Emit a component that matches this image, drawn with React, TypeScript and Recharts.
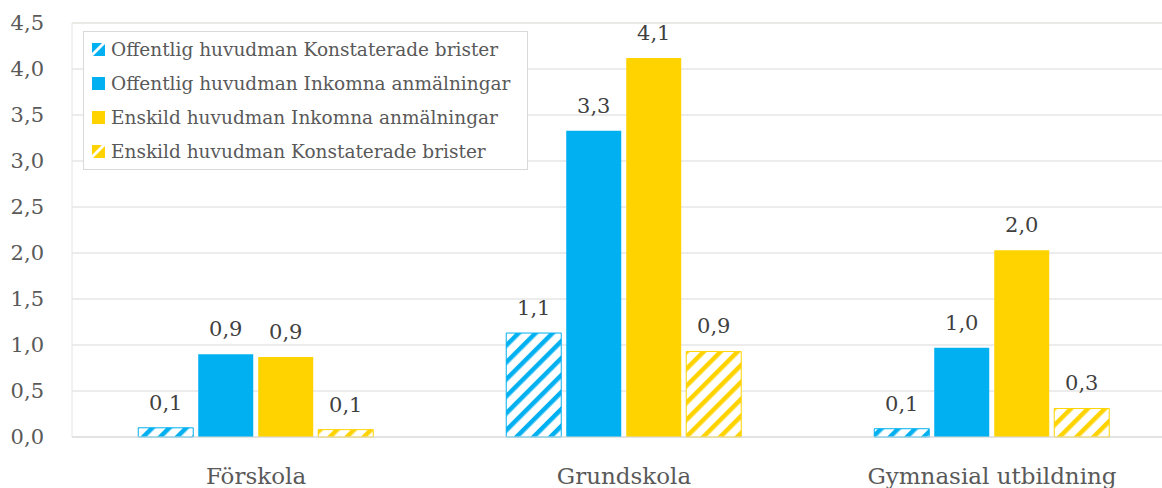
import {
  Bar,
  BarChart,
  CartesianGrid,
  LabelList,
  ReferenceLine,
  XAxis,
  YAxis,
} from "recharts";

const categories = ["Förskola", "Grundskola", "Gymnasial utbildning"];
const offentligBrister = [0.1, 1.13, 0.09];
const offentligInkomna = [0.9, 3.33, 0.97];
const enskildInkomna = [0.87, 4.12, 2.03];
const enskildBrister = [0.08, 0.93, 0.31];
const yTicks = [0, 0.5, 1, 1.5, 2, 2.5, 3, 3.5, 4, 4.5];

const BLUE = "#00b0f0";
const YELLOW = "#ffd300";
const TEXT = "#595959";
const FONT = "'DejaVu Serif', serif";

const series = [
  { key: "ob", name: "Offentlig huvudman Konstaterade brister", color: BLUE, hatched: true },
  { key: "oi", name: "Offentlig huvudman Inkomna anmälningar", color: BLUE, hatched: false },
  { key: "ei", name: "Enskild huvudman Inkomna anmälningar", color: YELLOW, hatched: false },
  { key: "eb", name: "Enskild huvudman Konstaterade brister", color: YELLOW, hatched: true },
];

const data = categories.map((c, i) => ({
  name: c,
  ob: offentligBrister[i],
  oi: offentligInkomna[i],
  ei: enskildInkomna[i],
  eb: enskildBrister[i],
}));

const fmt = (v: unknown) => Number(v).toFixed(1).replace(".", ",");

// legend box sits over the plot, so it's drawn outside recharts' layout
function LegendBox() {
  return (
    <div
      style={{
        position: "absolute",
        left: 83,
        top: 31,
        width: 445,
        border: "1px solid #d9d9d9",
        background: "#fff",
        padding: "0 0 0 8px",
        boxSizing: "border-box",
        fontFamily: FONT,
        fontSize: 18.5,
        color: TEXT,
        whiteSpace: "nowrap",
      }}
    >
      {series.map((s) => (
        <div key={s.key} style={{ display: "flex", alignItems: "center", height: 34.2 }}>
          <svg width={13} height={13} style={{ marginRight: 6, flex: "none" }}>
            <rect x={0} y={0} width={13} height={13} fill={s.color} />
            {s.hatched && <path d="M0,10 L10,0 L13,0 L13,1 L1,13 L0,13 Z" fill="#fff" />}
          </svg>
          <span>{s.name}</span>
        </div>
      ))}
    </div>
  );
}

export default function App() {
  return (
    <div
      style={{
        position: "fixed",
        left: 0,
        top: 0,
        width: 1162,
        height: 488,
        overflow: "hidden",
        background: "#fff",
      }}
    >
      <BarChart
        width={1176}
        height={488}
        data={data}
        margin={{ top: 23, right: 0, left: 0, bottom: 0 }}
        barCategoryGap="18%"
        barGap={5}
      >
        <defs>
          {series
            .filter((s) => s.hatched)
            .map((s) => (
              <pattern
                key={s.key}
                id={`hatch-${s.key}`}
                width={12}
                height={12}
                patternUnits="userSpaceOnUse"
                patternTransform="rotate(45)"
              >
                <rect width={12} height={12} fill="#fff" />
                <rect width={4.5} height={12} fill={s.color} />
              </pattern>
            ))}
        </defs>
        <CartesianGrid vertical={false} stroke="#d9d9d9" />
        <XAxis
          dataKey="name"
          height={51}
          tickLine={false}
          axisLine={{ stroke: "#d9d9d9" }}
          tickSize={0}
          tickMargin={31}
          tick={{ fill: TEXT, fontSize: 23, fontFamily: FONT }}
        />
        <YAxis
          width={72}
          domain={[0, 4.5]}
          ticks={yTicks}
          tickLine={false}
          tickSize={0}
          tickMargin={28}
          axisLine={{ stroke: "#e8e4dc" }}
          tickFormatter={(v) => fmt(v)}
          tick={{ fill: TEXT, fontSize: 21, fontFamily: FONT }}
        />
        <ReferenceLine y={4.5} stroke="#ebe7df" />
        {series.map((s) => (
          <Bar
            key={s.key}
            dataKey={s.key}
            name={s.name}
            fill={s.hatched ? `url(#hatch-${s.key})` : s.color}
            stroke={s.hatched ? s.color : "none"}
            strokeWidth={1}
            isAnimationActive={false}
          >
            <LabelList
              dataKey={s.key}
              position="top"
              offset={18}
              formatter={fmt}
              style={{ fill: "#404040", fontSize: 21, fontFamily: FONT }}
            />
          </Bar>
        ))}
      </BarChart>
      <LegendBox />
    </div>
  );
}
